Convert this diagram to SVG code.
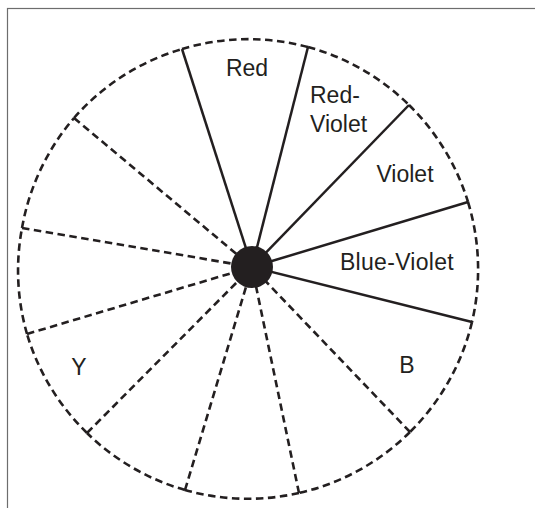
<svg xmlns="http://www.w3.org/2000/svg" width="535" height="508" viewBox="0 0 535 508">
<style>
.frame{fill:none;stroke:#6d6d6d;stroke-width:1.2}
.arc{fill:none;stroke:#231f20;stroke-width:2.6;stroke-dasharray:7.5 4.5}
.solid{fill:none;stroke:#231f20;stroke-width:2.5}
.dash{fill:none;stroke:#231f20;stroke-width:2.6;stroke-dasharray:7.5 4.5}
.lbl{font-family:"Liberation Sans",Arial,Helvetica,sans-serif;font-size:23px;fill:#231f20}
</style>
<rect class="frame" x="7.5" y="8.5" width="600" height="600"/>
<g id="rim">
<path class="arc" d="M182,49 A230,230 0 0 1 308,47"/>
<path class="arc" d="M308,47 A230,230 0 0 1 409,105"/>
<path class="arc" d="M409,105 A230,230 0 0 1 468,202"/>
<path class="arc" d="M468,202 A230,230 0 0 1 472,322"/>
<path class="arc" d="M472,322 A230,230 0 0 1 410,432"/>
<path class="arc" d="M410,432 A230,230 0 0 1 299,493"/>
<path class="arc" d="M299,493 A230,230 0 0 1 185,490"/>
<path class="arc" d="M185,490 A230,230 0 0 1 87,433"/>
<path class="arc" d="M87,433 A230,230 0 0 1 27,334"/>
<path class="arc" d="M27,334 A230,230 0 0 1 22,228"/>
<path class="arc" d="M22,228 A230,230 0 0 1 74,118"/>
<path class="arc" d="M74,118 A230,230 0 0 1 182,49"/>
</g>
<g id="connectors">
<line class="solid" x1="252" y1="267" x2="182" y2="49"/>
<line class="solid" x1="252" y1="267" x2="308" y2="47"/>
<line class="solid" x1="252" y1="267" x2="409" y2="105"/>
<line class="solid" x1="252" y1="267" x2="468" y2="202"/>
<line class="solid" x1="252" y1="267" x2="472" y2="322"/>
<line class="dash" x1="410" y1="432" x2="252" y2="267"/>
<line class="dash" x1="299" y1="493" x2="252" y2="267"/>
<line class="dash" x1="185" y1="490" x2="252" y2="267"/>
<line class="dash" x1="87" y1="433" x2="252" y2="267"/>
<line class="dash" x1="27" y1="334" x2="252" y2="267"/>
<line class="dash" x1="22" y1="228" x2="252" y2="267"/>
<line class="dash" x1="74" y1="118" x2="252" y2="267"/>
</g>
<g id="hub"><circle cx="252" cy="267" r="21" fill="#231f20"/></g>
<g id="red"><text class="lbl" x="247" y="76" text-anchor="middle">Red</text></g>
<g id="red-violet"><text class="lbl" x="310" y="103">Red-</text><text class="lbl" x="310" y="132">Violet</text></g>
<g id="violet"><text class="lbl" x="405" y="182" text-anchor="middle">Violet</text></g>
<g id="blue-violet"><text class="lbl" x="397" y="270" text-anchor="middle" letter-spacing="0.3">Blue-Violet</text></g>
<g id="b"><text class="lbl" x="407" y="373" text-anchor="middle">B</text></g>
<g id="y"><text class="lbl" x="79" y="375" text-anchor="middle">Y</text></g>
</svg>
